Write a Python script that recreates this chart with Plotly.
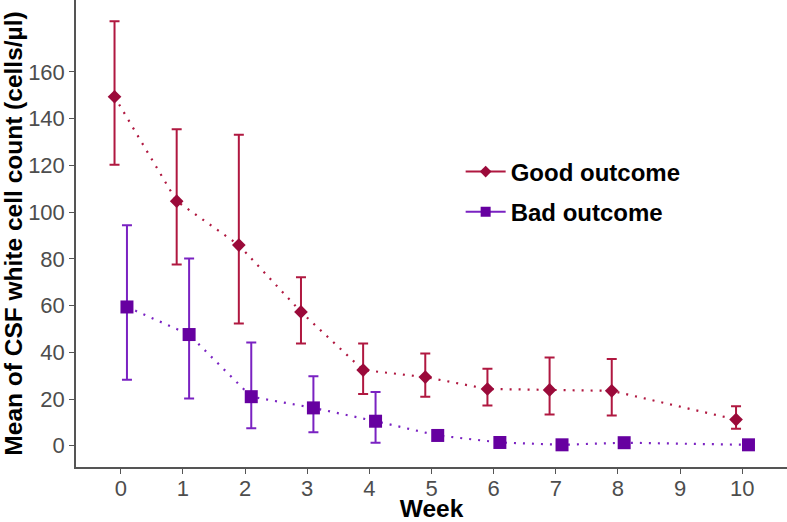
import plotly.graph_objects as go

weeks = [0, 1, 2, 3, 4, 5, 6, 7, 8, 10]
week_ticks = [0, 1, 2, 3, 4, 5, 6, 7, 8, 9, 10]

good_mean = [149.4, 104.7, 85.9, 57.3, 32.4, 29.4, 24.3, 23.9, 23.5, 11.2]
good_upper = [181.7, 135.5, 133.1, 72.1, 43.8, 39.5, 33.0, 37.8, 37.1, 16.9]
good_lower = [120.3, 77.6, 52.3, 43.8, 22.2, 21.0, 17.2, 13.4, 12.9, 7.3]

bad_mean = [59.4, 47.6, 21.0, 16.2, 10.5, 4.4, 1.4, 0.4, 1.3, 0.4]
bad_upper = [94.4, 80.1, 44.2, 29.7, 23.0, 4.4, 1.4, 0.4, 1.3, 0.4]
bad_lower = [28.2, 20.2, 7.5, 5.8, 1.3, 4.4, 1.4, 0.4, 1.3, 0.4]

y_ticks = [0, 20, 40, 60, 80, 100, 120, 140, 160]

GOOD = "#9B0A3A"
GOOD_ERR = "#B01840"
BAD = "#6600A0"
BAD_ERR = "#7A22C2"
DODGE = 0.1
FONT = "Liberation Sans, Arial, sans-serif"

fig = go.Figure()

fig.add_trace(go.Scatter(
    x=[w - DODGE for w in weeks], y=good_mean,
    mode="lines+markers",
    line=dict(color=GOOD_ERR, dash="2px,7px", width=2.2),
    marker=dict(symbol="diamond", size=10.5, color=GOOD),
    error_y=dict(type="data", symmetric=False,
                 array=[u - m for u, m in zip(good_upper, good_mean)],
                 arrayminus=[m - l for m, l in zip(good_mean, good_lower)],
                 color=GOOD_ERR, thickness=2, width=5),
    showlegend=False,
))
fig.add_trace(go.Scatter(
    x=[w + DODGE for w in weeks], y=bad_mean,
    mode="lines+markers",
    line=dict(color=BAD_ERR, dash="2px,7px", width=2.2),
    marker=dict(symbol="square", size=13, color=BAD),
    error_y=dict(type="data", symmetric=False,
                 array=[u - m for u, m in zip(bad_upper, bad_mean)],
                 arrayminus=[m - l for m, l in zip(bad_mean, bad_lower)],
                 color=BAD_ERR, thickness=2, width=5),
    showlegend=False,
))

# legend entries (solid key lines as in the reference)
fig.add_trace(go.Scatter(x=[None], y=[None], mode="lines+markers", name="<b>Good outcome</b>",
                         legendgroup="good",
                         line=dict(color=GOOD_ERR, width=2),
                         marker=dict(symbol="diamond", size=9, color=GOOD)))
fig.add_trace(go.Scatter(x=[None], y=[None], mode="lines+markers", name="<b>Bad outcome</b>",
                         legendgroup="bad",
                         line=dict(color=BAD_ERR, width=2),
                         marker=dict(symbol="square", size=10, color=BAD)))

fig.update_layout(
    width=787, height=522,
    margin=dict(l=76, r=0, t=0, b=55),
    plot_bgcolor="white", paper_bgcolor="white",
    font=dict(family=FONT),
    legend=dict(x=0.541, y=0.68, xanchor="left", yanchor="top",
                font=dict(size=24, color="black", family=FONT),
                itemwidth=40, tracegroupgap=6, bgcolor="rgba(0,0,0,0)"),
    xaxis=dict(range=[-0.72, 10.72], tickmode="array", tickvals=week_ticks,
               ticktext=[str(t) for t in week_ticks],
               showline=True, linecolor="#555555", linewidth=1.5,
               ticks="outside", ticklen=5, tickcolor="#555555",
               tickfont=dict(size=22, color="#4D4D4D"), ticklabelstandoff=-4,
               showgrid=False, zeroline=False, automargin=False,
               title=dict(text="<b>Week</b>", font=dict(size=24.5, color="black"), standoff=6)),
    yaxis=dict(range=[-9.1, 190.8], tickmode="array", tickvals=y_ticks,
               showline=True, linecolor="#555555", linewidth=1.5,
               ticks="outside", ticklen=5, tickcolor="#555555",
               tickfont=dict(size=22, color="#4D4D4D"),
               showgrid=False, zeroline=False, automargin=False,
               title=dict(text="<b>Mean of CSF white cell count (cells/µl)</b>",
                          font=dict(size=24.5, color="black"), standoff=3)),
)

fig.write_html("out.html", config={"displayModeBar": False},
               post_script="document.body.style.margin='0';document.body.style.overflow='hidden';")
